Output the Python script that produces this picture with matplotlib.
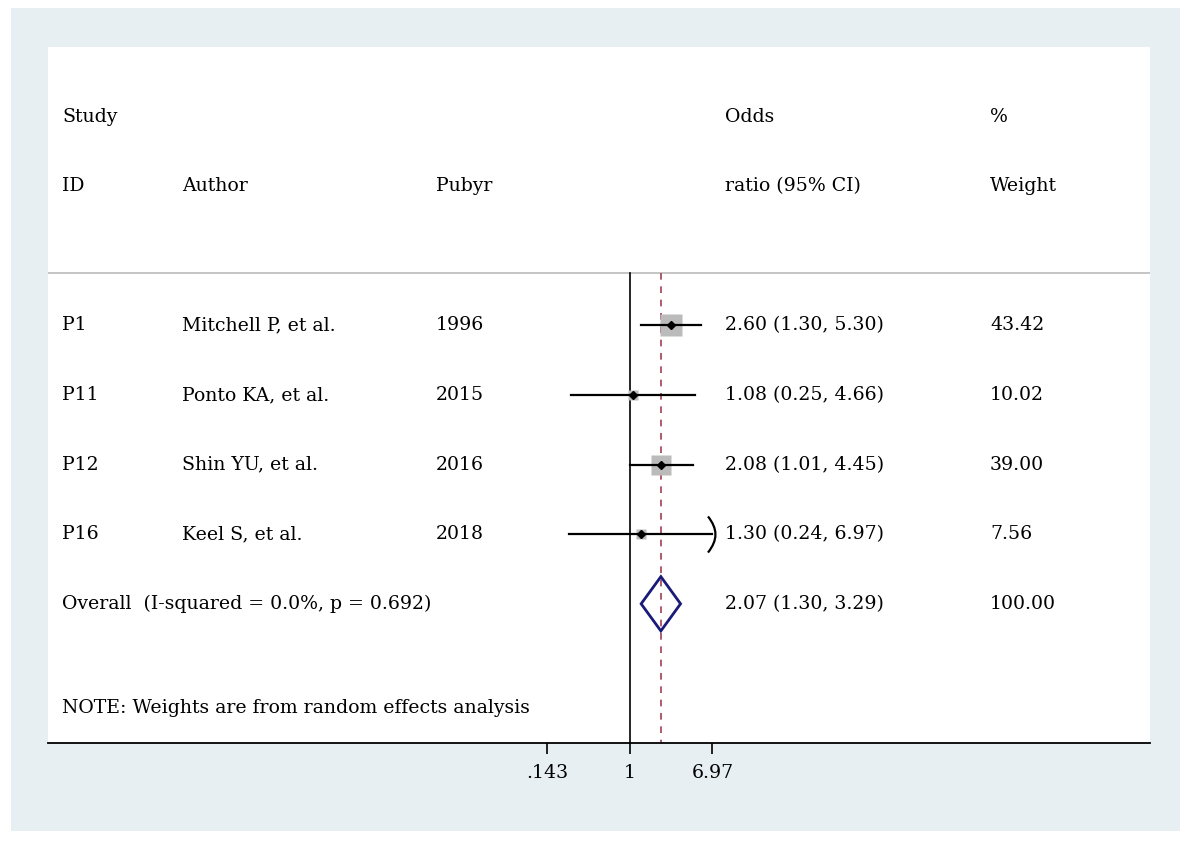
import numpy as np
import matplotlib.pyplot as plt
from matplotlib.path import Path
from matplotlib.patches import Rectangle
from matplotlib.transforms import blended_transform_factory

# datos del forest plot
study_id = ["P1", "P11", "P12", "P16"]
authors = ["Mitchell P, et al.", "Ponto KA, et al.", "Shin YU, et al.", "Keel S, et al."]
pubyr = ["1996", "2015", "2016", "2018"]
odds = [2.60, 1.08, 2.08, 1.30]
ci_low = [1.30, 0.25, 1.01, 0.24]
ci_high = [5.30, 4.66, 4.45, 6.97]
weights = [43.42, 10.02, 39.00, 7.56]
overall = 2.07
overall_low = 1.30
overall_high = 3.29
overall_label = "Overall  (I-squared = 0.0%, p = 0.692)"
xticks = [0.143, 1, 6.97]
xtick_labels = [".143", "1", "6.97"]

plt.rcParams['font.family'] = ['DejaVu Serif']
fs = 13.6

W, H = 1192, 843
fig = plt.figure(figsize=(W / 100, H / 100), dpi=100)
fig.patch.set_facecolor('white')

# fondo gris azulado del grafico (con margen blanco)
fig.patches.append(Rectangle((11 / W, 1 - 831 / H), (1180 - 11) / W, (831 - 8) / H,
                             transform=fig.transFigure, facecolor='#E8EFF2',
                             edgecolor='none', zorder=-10))

# panel blanco en pixeles
px_l, px_r, px_t, px_b = 48, 1150, 47, 743
ax = fig.add_axes([px_l / W, 1 - px_b / H, (px_r - px_l) / W, (px_b - px_t) / H])
ax.set_facecolor('white')

# escala logaritmica: 1 en x=630, 42.45 px por unidad ln
scale = 42.45
x_one = 630
ax.set_xscale('log')
ax.set_xlim(np.exp((px_l - x_one) / scale), np.exp((px_r - x_one) / scale))
ax.set_ylim(6, -4)

for s in ['top', 'left', 'right']:
    ax.spines[s].set_visible(False)
ax.spines['bottom'].set_linewidth(1.3)
ax.set_yticks([])
ax.set_xticks(xticks)
ax.set_xticklabels(xtick_labels, fontsize=fs)
ax.xaxis.set_minor_locator(plt.NullLocator())
ax.tick_params(axis='x', length=8, width=1.2, pad=7)

tr = blended_transform_factory(ax.transAxes, ax.transData)

def colx(px):
    return (px - px_l) / (px_r - px_l)

# encabezados
hdr = [(62, "Study", "ID"), (182, "", "Author"), (436, "", "Pubyr"),
       (725, "Odds", "ratio (95% CI)"), (990, "%", "Weight")]
for px, top, bottom in hdr:
    ax.text(colx(px), -3, top, transform=tr, fontsize=fs, va='center')
    ax.text(colx(px), -2, bottom, transform=tr, fontsize=fs, va='center')

header_y = -0.76
ax.axhline(header_y, color='#BBBBBB', lw=1.2)

# lineas verticales
ax.plot([1, 1], [header_y, 6], color='black', lw=1.2, clip_on=False)
ax.plot([overall, overall], [header_y, 6], color='#A04050', lw=1.2,
        dashes=(4, 4))

# flecha ")" para IC que llega al limite del eje
arrow = Path([(-0.25, -1), (0.3, -0.3), (0.3, 0.3), (-0.25, 1)],
             [Path.MOVETO, Path.CURVE4, Path.CURVE4, Path.CURVE4])

for i in range(len(study_id)):
    ax.text(colx(62), i, study_id[i], transform=tr, fontsize=fs, va='center')
    ax.text(colx(182), i, authors[i], transform=tr, fontsize=fs, va='center')
    ax.text(colx(436), i, pubyr[i], transform=tr, fontsize=fs, va='center')
    ax.text(colx(725), i, f"{odds[i]:.2f} ({ci_low[i]:.2f}, {ci_high[i]:.2f})",
            transform=tr, fontsize=fs, va='center')
    ax.text(colx(990), i, f"{weights[i]:.2f}", transform=tr, fontsize=fs,
            va='center')
    side = 3.34 * np.sqrt(weights[i]) * 0.72
    ax.plot(odds[i], i, marker='s', ms=side, color='#BBBBBB', mec='none',
            zorder=2)
    ax.plot([ci_low[i], ci_high[i]], [i, i], color='black', lw=1.6, zorder=3)
    ax.plot(odds[i], i, marker='D', ms=4.5, color='black', zorder=4)
    if ci_high[i] >= xticks[-1]:
        ax.plot(ci_high[i], i, marker=arrow, ms=26, color='black', mfc='none',
                mew=1.6, zorder=4)

# efecto global
r = 4
ax.text(colx(62), r, overall_label, transform=tr, fontsize=fs, va='center')
ax.text(colx(725), r, f"{overall:.2f} ({overall_low:.2f}, {overall_high:.2f})",
        transform=tr, fontsize=fs, va='center')
ax.text(colx(990), r, "100.00", transform=tr, fontsize=fs, va='center')
dh = 0.39
ax.fill([overall_low, overall, overall_high, overall, overall_low],
        [r, r - dh, r, r + dh, r], facecolor='none', edgecolor='#1A1A78',
        lw=2, zorder=5)

ax.text(colx(62), 5.5, "NOTE: Weights are from random effects analysis",
        transform=tr, fontsize=fs, va='center')

fig.savefig('out.png', dpi=100, facecolor=fig.get_facecolor())
